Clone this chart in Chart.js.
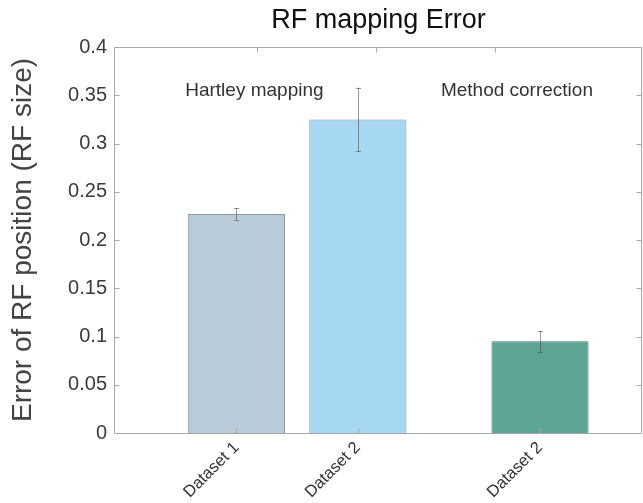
<!DOCTYPE html>
<html>
<head>
<meta charset="utf-8">
<title>RF mapping Error</title>
<script src="https://cdn.jsdelivr.net/npm/chart.js@4.4.1/dist/chart.umd.min.js"></script>
<style>
  html, body { margin: 0; padding: 0; background: #ffffff; }
  #wrap { width: 643px; height: 503px; }
</style>
</head>
<body>
<div id="wrap"><canvas id="c" width="643" height="503"></canvas></div>
<script>
// Bar groups: category position on the x axis, label, mean error and its spread
const categoryPositions = [1, 2, 3.5];
const categoryLabels = ['Dataset 1', 'Dataset 2', 'Dataset 2'];
const meanError = [0.227, 0.325, 0.095];
const errorSpread = [0.006, 0.033, 0.011];
const barColors = ['#b9cbd9', '#a6d8f4', '#5ca596'];
const barEdgeColors = ['#8a99a3', '#6f93aa', '#3f7a6d'];

// Y axis ticks
const yTicks = [0, 0.05, 0.1, 0.15, 0.2, 0.25, 0.3, 0.35, 0.4];
// Minor marks on the top edge of the frame
const topTicks = [1.17, 2.15, 3.13];

// Group captions: text, x position, y position (data units)
const captionTexts = ['Hartley mapping', 'Method correction'];
const captionX = [1.148, 3.31];
const captionY = [0.349, 0.349];

const FONT = '"Liberation Sans", Arial, Helvetica, sans-serif';

const barPoints = categoryPositions.map((x, i) => ({ x: x, y: meanError[i] }));

// Frame, inward tick marks, error bars and captions
const decorations = {
  id: 'decorations',
  afterDatasetsDraw(chart) {
    const ctx = chart.ctx;
    const xs = chart.scales.x;
    const ys = chart.scales.y;
    const a = chart.chartArea;
    const L = Math.round(a.left) - 0.5, R = Math.round(a.right) - 0.5;
    const T = Math.round(a.top) + 0.5, B = Math.round(a.bottom) + 0.5;
    const tl = 5;

    ctx.save();
    // error bars
    ctx.lineWidth = 1;
    ctx.strokeStyle = 'rgba(70,70,70,0.55)';
    categoryPositions.forEach((x, i) => {
      const px = Math.round(xs.getPixelForValue(x)) + 0.5;
      const hi = ys.getPixelForValue(meanError[i] + errorSpread[i]);
      const lo = ys.getPixelForValue(meanError[i] - errorSpread[i]);
      ctx.beginPath();
      ctx.moveTo(px, hi); ctx.lineTo(px, lo);
      ctx.moveTo(px - 2.5, Math.round(hi) + 0.5); ctx.lineTo(px + 2.5, Math.round(hi) + 0.5);
      ctx.moveTo(px - 2.5, Math.round(lo) + 0.5); ctx.lineTo(px + 2.5, Math.round(lo) + 0.5);
      ctx.stroke();
    });

    // frame
    ctx.strokeStyle = '#a8a8a8';
    ctx.beginPath();
    ctx.rect(L, T, R - L, B - T);
    ctx.stroke();

    // inward ticks
    ctx.beginPath();
    yTicks.forEach(v => {
      const py = Math.round(ys.getPixelForValue(v)) + 0.5;
      ctx.moveTo(L, py); ctx.lineTo(L + tl, py);
      ctx.moveTo(R, py); ctx.lineTo(R - tl, py);
    });
    categoryPositions.forEach(v => {
      const px = Math.round(xs.getPixelForValue(v)) + 0.5;
      ctx.moveTo(px, B); ctx.lineTo(px, B - tl);
    });
    topTicks.forEach(v => {
      const px = Math.round(xs.getPixelForValue(v)) + 0.5;
      ctx.moveTo(px, T); ctx.lineTo(px, T + tl);
    });
    ctx.stroke();

    // captions
    ctx.fillStyle = '#333333';
    ctx.font = '19px ' + FONT;
    ctx.textAlign = 'center';
    ctx.textBaseline = 'alphabetic';
    captionTexts.forEach((t, i) => {
      ctx.fillText(t, xs.getPixelForValue(captionX[i]), ys.getPixelForValue(captionY[i]));
    });
    ctx.restore();
  }
};

new Chart(document.getElementById('c'), {
  type: 'bar',
  data: {
    datasets: [{
      data: barPoints,
      backgroundColor: barColors,
      borderColor: barEdgeColors,
      borderWidth: 1,
      barPercentage: 0.8,
      categoryPercentage: 1.0
    }]
  },
  options: {
    responsive: false,
    animation: false,
    devicePixelRatio: 1,
    layout: { padding: { left: 0, right: 1, top: 0, bottom: 0 } },
    plugins: {
      legend: { display: false },
      tooltip: { enabled: false },
      title: {
        display: true,
        text: 'RF mapping Error',
        fullSize: false,
        color: '#111111',
        font: { family: FONT, size: 27, weight: 'normal', lineHeight: 1.2 },
        padding: { top: 4, bottom: 10.6 }
      }
    },
    scales: {
      x: {
        type: 'linear',
        min: 0,
        max: 4.34,
        offset: false,
        grid: { display: false, drawTicks: false, offset: false },
        border: { display: false },
        afterBuildTicks(scale) {
          scale.ticks = categoryPositions.map(v => ({ value: v }));
        },
        afterFit(scale) { scale.height = 70; },
        ticks: {
          autoSkip: false,
          minRotation: 45,
          maxRotation: 45,
          padding: 5,
          color: '#333333',
          font: { family: FONT, size: 16.5 },
          callback(value) {
            const i = categoryPositions.indexOf(value);
            return i >= 0 ? categoryLabels[i] : '';
          }
        }
      },
      y: {
        min: 0,
        max: 0.4,
        grid: { display: false, drawTicks: false },
        border: { display: false },
        afterBuildTicks(scale) {
          scale.ticks = yTicks.map(v => ({ value: v }));
        },
        afterFit(scale) { scale.width = 115; },
        ticks: {
          padding: 8,
          color: '#3a3a3a',
          font: { family: FONT, size: 20 },
          callback(value) { return String(Number(value.toFixed(2))); }
        },
        title: {
          display: true,
          text: 'Error of RF position (RF size)',
          color: '#444444',
          font: { family: FONT, size: 28, lineHeight: 1.2 },
          padding: { top: 6, bottom: 0 }
        }
      }
    }
  },
  plugins: [decorations]
});
</script>
</body>
</html>
